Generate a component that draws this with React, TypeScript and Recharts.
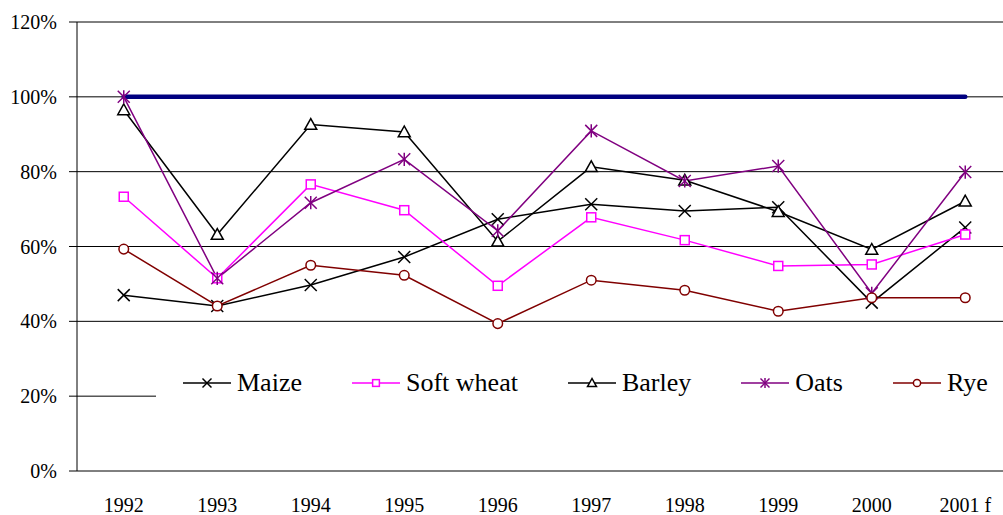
import React from "react";
import { LineChart, Line, XAxis, YAxis, CartesianGrid, Legend } from "recharts";

const years = ["1992", "1993", "1994", "1995", "1996", "1997", "1998", "1999", "2000", "2001 f"];
const maize = [47.0, 44.1, 49.7, 57.2, 67.3, 71.3, 69.5, 70.5, 45.0, 65.1];
const softWheat = [73.3, 51.5, 76.6, 69.7, 49.5, 67.8, 61.7, 54.8, 55.2, 63.2];
const barley = [96.5, 63.2, 92.6, 90.6, 61.4, 81.3, 77.7, 69.3, 59.2, 72.1];
const oats = [100, 51.5, 71.7, 83.3, 64.2, 90.9, 77.5, 81.5, 47.5, 79.9];
const rye = [59.3, 44.1, 55.0, 52.3, 39.4, 51.0, 48.3, 42.7, 46.3, 46.3];
const reference = [100, 100, 100, 100, 100, 100, 100, 100, 100, 100];
const yTicks = [0, 20, 40, 60, 80, 100, 120];

const data = years.map((year, i) => ({
  i,
  year,
  maize: maize[i],
  softWheat: softWheat[i],
  barley: barley[i],
  oats: oats[i],
  rye: rye[i],
  reference: reference[i],
}));

const centerTicks = years.map((_, i) => i);
const boundaryTicks = [...years.map((_, i) => i - 0.5), years.length - 0.5];

const FONT = "Liberation Serif";

type MarkerKind = "x" | "square" | "triangle" | "star" | "circle";

function markerShape(kind: MarkerKind, cx: number, cy: number, color: string, s: number) {
  switch (kind) {
    case "x":
      return (
        <g>
          <line x1={cx - s} y1={cy - s} x2={cx + s} y2={cy + s} stroke={color} strokeWidth={1.5} />
          <line x1={cx - s} y1={cy + s} x2={cx + s} y2={cy - s} stroke={color} strokeWidth={1.5} />
        </g>
      );
    case "square":
      return (
        <rect x={cx - s * 0.75} y={cy - s * 0.75} width={s * 1.5} height={s * 1.5} fill="#fff" stroke={color} strokeWidth={1.5} />
      );
    case "triangle":
      return (
        <polygon
          points={`${cx},${cy - s} ${cx - s},${cy + s * 0.8} ${cx + s},${cy + s * 0.8}`}
          fill="#fff"
          stroke={color}
          strokeWidth={1.5}
        />
      );
    case "star":
      return (
        <g>
          <line x1={cx - s} y1={cy - s} x2={cx + s} y2={cy + s} stroke={color} strokeWidth={1.5} />
          <line x1={cx - s} y1={cy + s} x2={cx + s} y2={cy - s} stroke={color} strokeWidth={1.5} />
          <line x1={cx} y1={cy - s * 1.1} x2={cx} y2={cy + s * 1.1} stroke={color} strokeWidth={1.5} />
        </g>
      );
    case "circle":
    default:
      return <circle cx={cx} cy={cy} r={s * 0.8} fill="#fff" stroke={color} strokeWidth={1.5} />;
  }
}

const series: { key: string; name: string; color: string; marker: MarkerKind }[] = [
  { key: "maize", name: "Maize", color: "#000000", marker: "x" },
  { key: "softWheat", name: "Soft wheat", color: "#FF00FF", marker: "square" },
  { key: "barley", name: "Barley", color: "#000000", marker: "triangle" },
  { key: "oats", name: "Oats", color: "#800080", marker: "star" },
  { key: "rye", name: "Rye", color: "#800000", marker: "circle" },
];

function makeDot(kind: MarkerKind, color: string) {
  return (props: any) => {
    const { cx, cy, index } = props;
    if (cx == null || cy == null) return <g key={`d-${index}`} />;
    return <g key={`d-${kind}-${index}`}>{markerShape(kind, cx, cy, color, 6)}</g>;
  };
}

function LegendBox() {
  return (
    <div
      style={{
        background: "#fff",
        display: "flex",
        alignItems: "center",
        height: 46,
        paddingLeft: 27,
        fontFamily: FONT,
        fontSize: 26,
        color: "#000",
        whiteSpace: "nowrap",
      }}
    >
      {series.map((s) => (
        <div key={s.key} style={{ display: "flex", alignItems: "center", marginRight: 50 }}>
          <svg width={48} height={20} style={{ display: "block" }}>
            <line x1={0} y1={10} x2={48} y2={10} stroke={s.color} strokeWidth={1.5} />
            {markerShape(s.marker, 24, 10, s.color, 4.5)}
          </svg>
          <span style={{ marginLeft: 6, lineHeight: "46px", fontFamily: FONT }}>{s.name}</span>
        </div>
      ))}
    </div>
  );
}

export default function App() {
  return (
    <div
      style={{
        position: "fixed",
        left: 0,
        top: 0,
        width: 1003,
        height: 515,
        overflow: "hidden",
        background: "#fff",
        fontFamily: FONT,
      }}
    >
      <LineChart
        width={1012}
        height={515}
        data={data}
        margin={{ top: 22, right: 0, left: 0, bottom: 0 }}
        style={{ fontFamily: FONT }}
      >
        <CartesianGrid vertical={false} stroke="#000" strokeWidth={1} yAxisId="y" xAxisId="labels" />
        <XAxis
          xAxisId="bounds"
          type="number"
          dataKey="i"
          domain={[-0.5, years.length - 0.5]}
          ticks={boundaryTicks}
          tickFormatter={() => ""}
          tickSize={7}
          height={0}
          axisLine={{ stroke: "#000", strokeWidth: 1 }}
          tickLine={{ stroke: "#000", strokeWidth: 1 }}
          allowDecimals
          interval={0}
        />
        <XAxis
          xAxisId="labels"
          type="number"
          dataKey="i"
          domain={[-0.5, years.length - 0.5]}
          ticks={centerTicks}
          tickFormatter={(v: number) => years[v] ?? ""}
          axisLine={false}
          tickLine={false}
          tickSize={6}
          tickMargin={21}
          height={44}
          interval={0}
          tick={{ fill: "#000", fontSize: 20, fontFamily: FONT }}
        />
        <YAxis
          yAxisId="y"
          domain={[0, 120]}
          ticks={yTicks}
          tickFormatter={(v: number) => `${v}%`}
          width={77}
          tickSize={8}
          tickMargin={12}
          interval={0}
          axisLine={{ stroke: "#000", strokeWidth: 1 }}
          tickLine={{ stroke: "#000", strokeWidth: 1 }}
          tick={{ fill: "#000", fontSize: 20, fontFamily: FONT }}
        />
        <Legend
          layout="vertical"
          verticalAlign="middle"
          align="center"
          content={() => <LegendBox />}
          wrapperStyle={{ left: 156, top: 360, width: 856 }}
        />
        <Line
          xAxisId="labels"
          yAxisId="y"
          dataKey="reference"
          stroke="#000080"
          strokeWidth={4.5}
          strokeLinecap="round"
          dot={false}
          activeDot={false}
          legendType="none"
          isAnimationActive={false}
        />
        {series.map((s) => (
          <Line
            key={s.key}
            xAxisId="labels"
            yAxisId="y"
            dataKey={s.key}
            name={s.name}
            stroke={s.color}
            strokeWidth={1.5}
            dot={makeDot(s.marker, s.color)}
            activeDot={false}
            isAnimationActive={false}
          />
        ))}
      </LineChart>
    </div>
  );
}
